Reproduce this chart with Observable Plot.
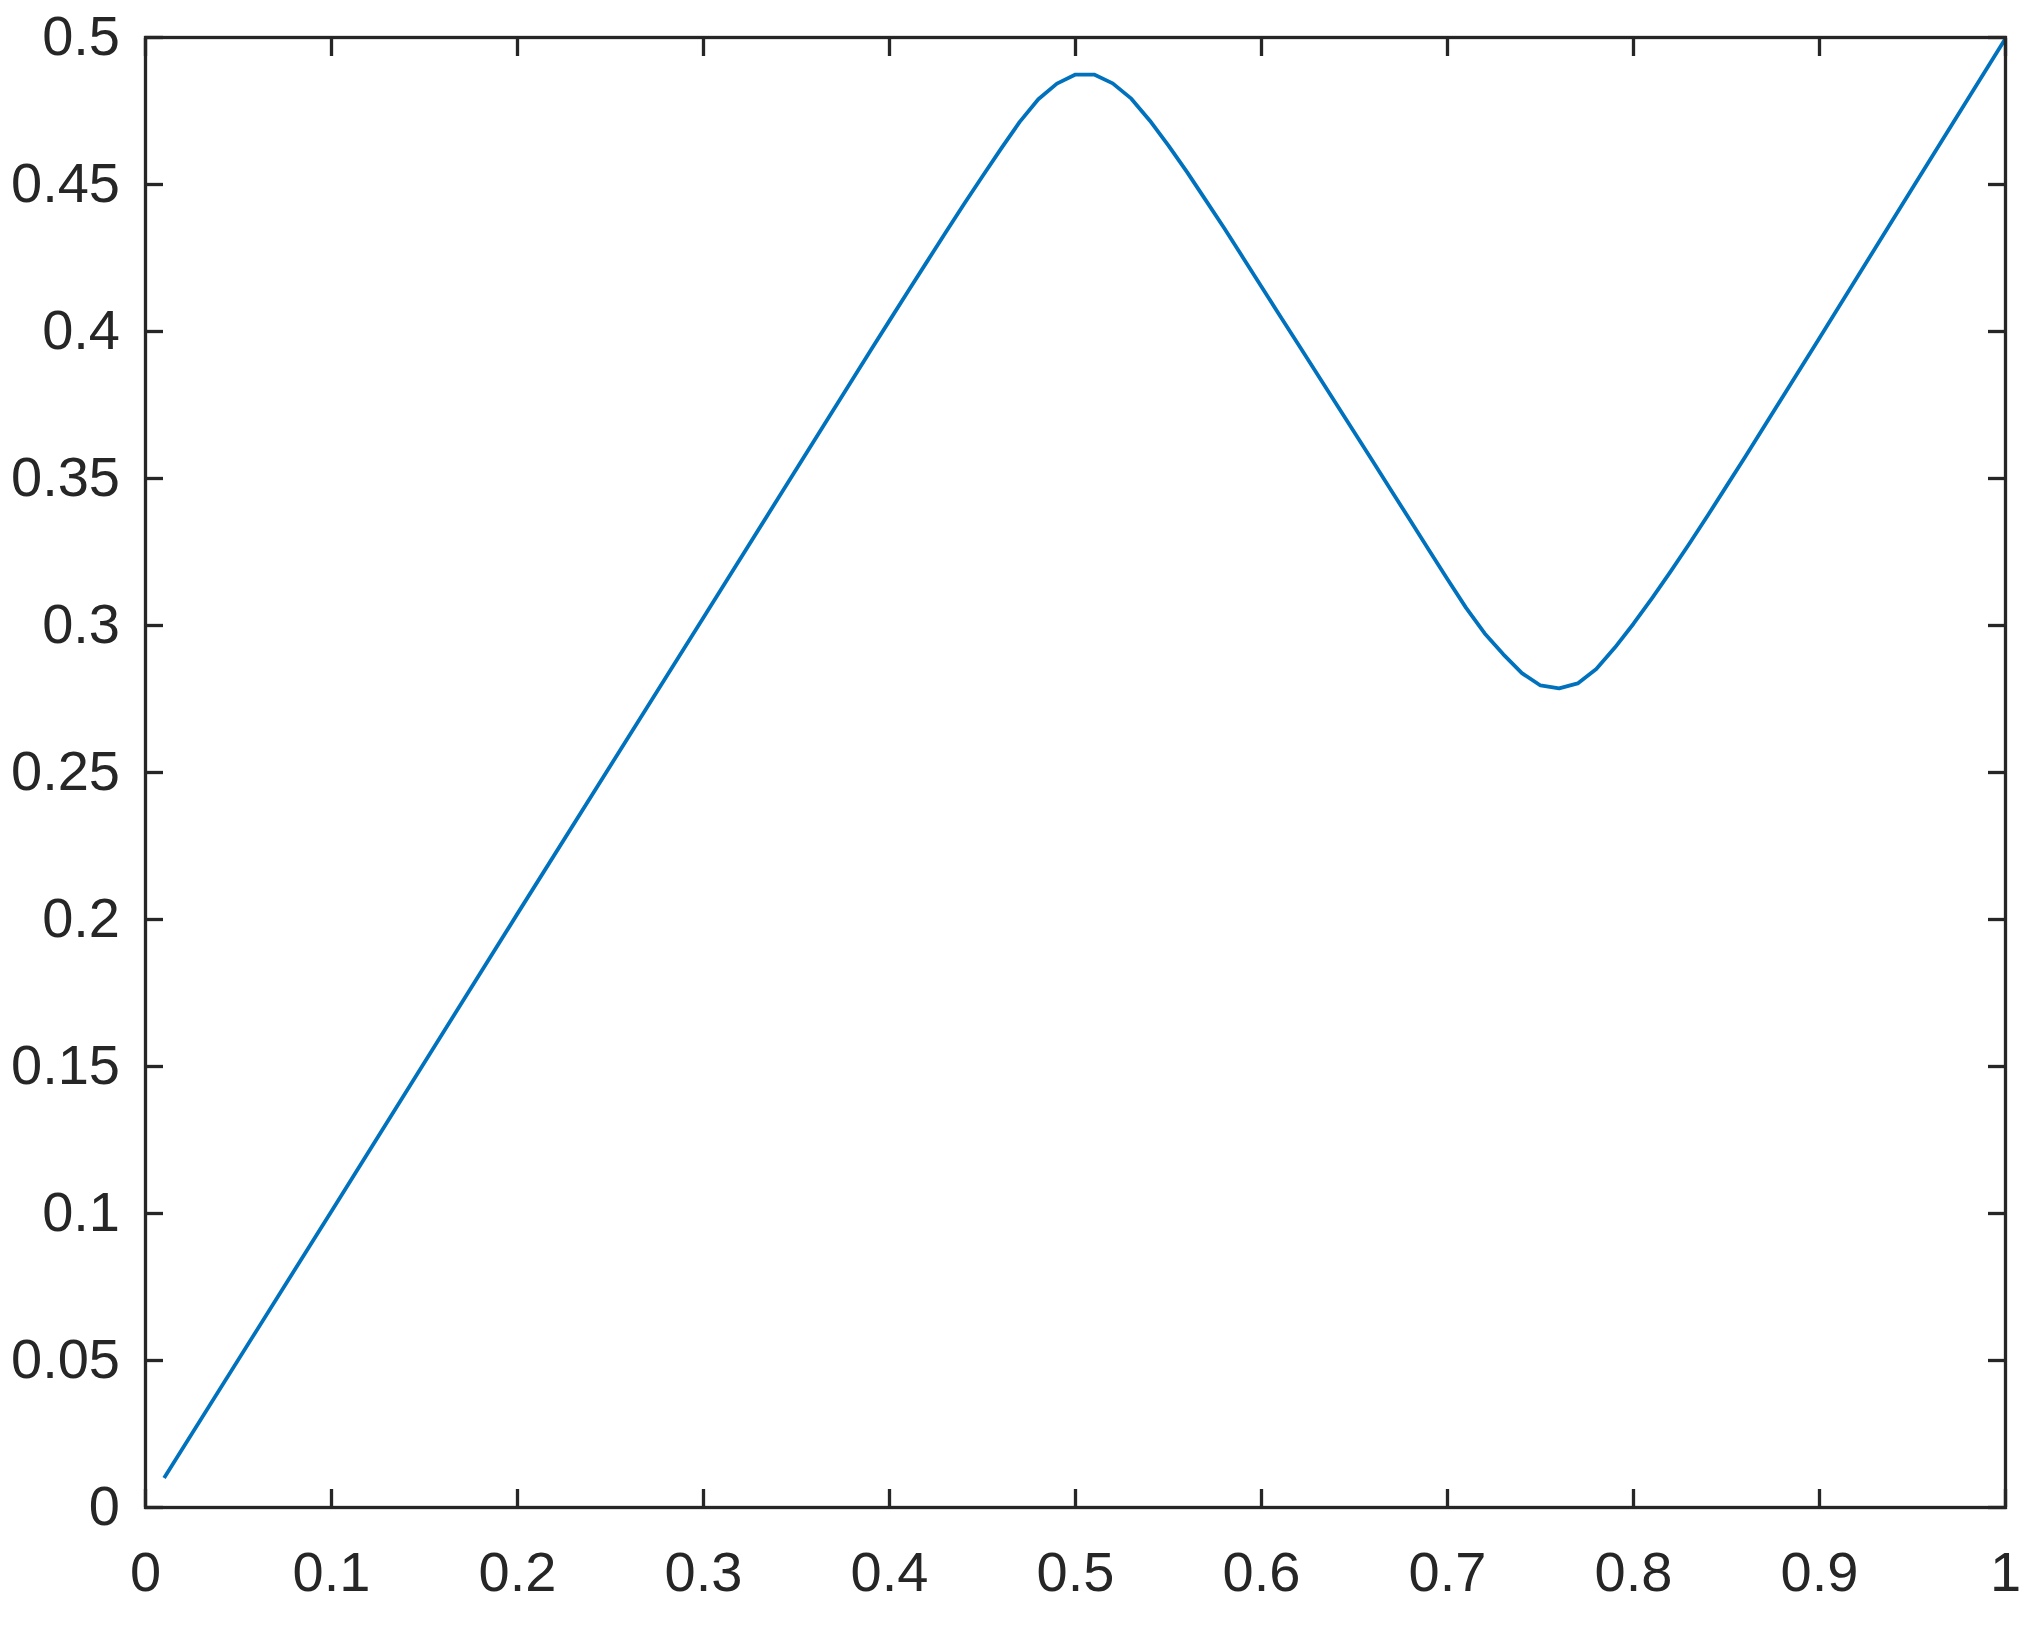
<!DOCTYPE html>
<html>
<head>
<meta charset="utf-8">
<script src="https://cdn.jsdelivr.net/npm/d3@7"></script>
<script src="https://cdn.jsdelivr.net/npm/@observablehq/plot@0.6"></script>
<style>
  html, body { margin: 0; padding: 0; background: #ffffff; }
  #chart { width: 2040px; height: 1631px; }
</style>
</head>
<body>
<div id="chart"></div>
<script>
// Curve samples
const xValues = [0.01, 0.10, 0.20, 0.30, 0.39, 0.40, 0.41, 0.42, 0.43, 0.44, 0.45, 0.46, 0.47, 0.48, 0.49, 0.50, 0.51, 0.52, 0.53, 0.54, 0.55, 0.56, 0.57, 0.58, 0.59, 0.60, 0.61, 0.62, 0.66, 0.67, 0.68, 0.69, 0.70, 0.71, 0.72, 0.73, 0.74, 0.75, 0.76, 0.77, 0.78, 0.79, 0.80, 0.81, 0.82, 0.83, 0.84, 0.85, 0.86, 0.90, 0.95, 1.00];
const yValues = [0.0100, 0.1008, 0.2020, 0.3027, 0.3937, 0.4037, 0.4137, 0.4236, 0.4335, 0.4433, 0.4528, 0.4622, 0.4713, 0.4790, 0.4843, 0.4874, 0.4874, 0.4844, 0.4792, 0.4717, 0.4632, 0.4542, 0.4447, 0.4351, 0.4252, 0.4152, 0.4053, 0.3954, 0.3557, 0.3457, 0.3357, 0.3257, 0.3157, 0.3060, 0.2973, 0.2902, 0.2838, 0.2796, 0.2786, 0.2803, 0.2852, 0.2925, 0.3006, 0.3093, 0.3184, 0.3278, 0.3375, 0.3474, 0.3573, 0.3978, 0.4488, 0.4997];

const xTicks = [0, 0.1, 0.2, 0.3, 0.4, 0.5, 0.6, 0.7, 0.8, 0.9, 1];
const yTicks = [0, 0.05, 0.1, 0.15, 0.2, 0.25, 0.3, 0.35, 0.4, 0.45, 0.5];
const xTickLabels = ["0", "0.1", "0.2", "0.3", "0.4", "0.5", "0.6", "0.7", "0.8", "0.9", "1"];
const yTickLabels = ["0", "0.05", "0.1", "0.15", "0.2", "0.25", "0.3", "0.35", "0.4", "0.45", "0.5"];

const points = xValues.map((x, i) => ({x, y: yValues[i]}));
const axisColor = "#262626";
const fmtX = d => xTickLabels[xTicks.indexOf(d)] ?? String(d);
const fmtY = d => yTickLabels[yTicks.indexOf(d)] ?? String(d);

const chart = Plot.plot({
  width: 2040,
  height: 1631,
  marginLeft: 145,
  marginRight: 35,
  marginTop: 37,
  marginBottom: 124,
  style: {
    fontFamily: "'Liberation Sans', Arial, Helvetica, sans-serif",
    fontSize: "56px",
    color: axisColor,
    background: "#ffffff"
  },
  x: {domain: [0, 1], label: null},
  y: {domain: [0, 0.5], label: null},
  marks: [
    Plot.line(points, {x: "x", y: "y", stroke: "#0072BD", strokeWidth: 3.8, strokeLinejoin: "round", strokeLinecap: "butt"}),
    Plot.frame({stroke: axisColor, strokeWidth: 3.3}),
    Plot.axisX({anchor: "bottom", ticks: xTicks, tickFormat: fmtX, tickSize: -18, tickPadding: 62, strokeWidth: 3.3, stroke: axisColor, fill: axisColor, fontSize: 56, label: null}),
    Plot.axisX({anchor: "top", ticks: xTicks, tickFormat: () => "", tickSize: -18, strokeWidth: 3.3, stroke: axisColor, label: null}),
    Plot.axisY({anchor: "left", ticks: yTicks, tickFormat: fmtY, tickSize: -18, tickPadding: 43.5, strokeWidth: 3.3, stroke: axisColor, fill: axisColor, fontSize: 56, label: null}),
    Plot.axisY({anchor: "right", ticks: yTicks, tickFormat: () => "", tickSize: -18, strokeWidth: 3.3, stroke: axisColor, label: null})
  ]
});

document.getElementById("chart").appendChild(chart);
</script>
</body>
</html>
